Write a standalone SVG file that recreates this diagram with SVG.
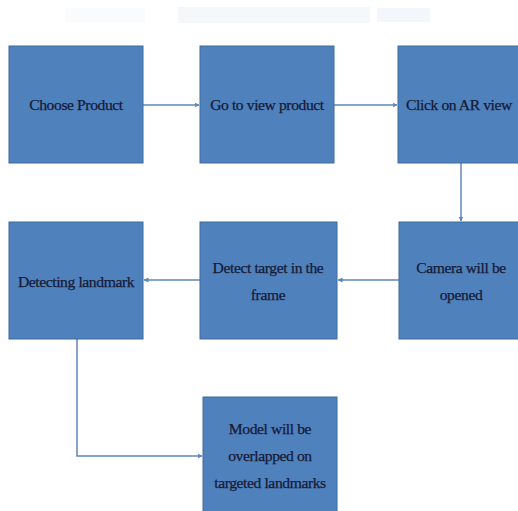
<svg xmlns="http://www.w3.org/2000/svg" width="518" height="511" viewBox="0 0 518 511">
<defs>
<style>
.box{fill:#4f81bd;stroke:#3f6a9c;stroke-width:1}
.lbl{font-family:"Liberation Serif","DejaVu Serif",serif;font-size:15.6px;letter-spacing:-0.4px;fill:#161a36;stroke:#161a36;stroke-width:0.25;text-anchor:middle}
.con{fill:none;stroke:#5f86ba;stroke-width:1.5}
.faint{stroke:none}
</style>
<marker id="ah" viewBox="0 0 10 10" refX="9" refY="5" markerWidth="5" markerHeight="5" orient="auto" markerUnits="userSpaceOnUse">
<path d="M0,0 L10,5 L0,10 z" fill="#5f86ba"/>
</marker>
</defs>
<rect width="518" height="511" fill="#ffffff"/>
<g id="artifacts">
<rect class="faint" x="65" y="8" width="80" height="14" fill="#fafbfc"/>
<rect class="faint" x="178" y="7" width="192" height="16" fill="#f6f7f9"/>
<rect class="faint" x="377" y="8" width="53" height="14" fill="#f3f6fa"/>
</g>
<g id="connectors">
<line class="con" x1="143" y1="105" x2="199" y2="105" marker-end="url(#ah)"/>
<line class="con" x1="334" y1="105" x2="397" y2="105" marker-end="url(#ah)"/>
<line class="con" x1="461" y1="163" x2="461" y2="221" marker-end="url(#ah)"/>
<line class="con" x1="399" y1="280" x2="338" y2="280" marker-end="url(#ah)"/>
<line class="con" x1="200" y1="280" x2="144" y2="280" marker-end="url(#ah)"/>
<polyline class="con" points="77,339 77,456 202,456" marker-end="url(#ah)"/>
</g>
<g id="n1"><rect class="box" x="9" y="46" width="134" height="117"/><text class="lbl" x="76" y="110">Choose Product</text></g>
<g id="n2"><rect class="box" x="200" y="46" width="134" height="117"/><text class="lbl" x="267" y="110">Go to view product</text></g>
<g id="n3"><rect class="box" x="398" y="46" width="125" height="117"/><text class="lbl" x="459" y="110">Click on AR view</text></g>
<g id="n4"><rect class="box" x="399" y="222" width="124" height="117"/><text class="lbl" x="461" y="273">Camera will be</text><text class="lbl" x="461" y="300">opened</text></g>
<g id="n5"><rect class="box" x="200" y="222" width="137" height="117"/><text class="lbl" x="268" y="273">Detect target in the</text><text class="lbl" x="268" y="300">frame</text></g>
<g id="n6"><rect class="box" x="9" y="222" width="134" height="117"/><text class="lbl" x="76" y="287">Detecting landmark</text></g>
<g id="n7"><rect class="box" x="203" y="397" width="134" height="120"/><text class="lbl" x="270" y="434">Model will be</text><text class="lbl" x="270" y="461">overlapped on</text><text class="lbl" x="270" y="488">targeted landmarks</text></g>
</svg>
